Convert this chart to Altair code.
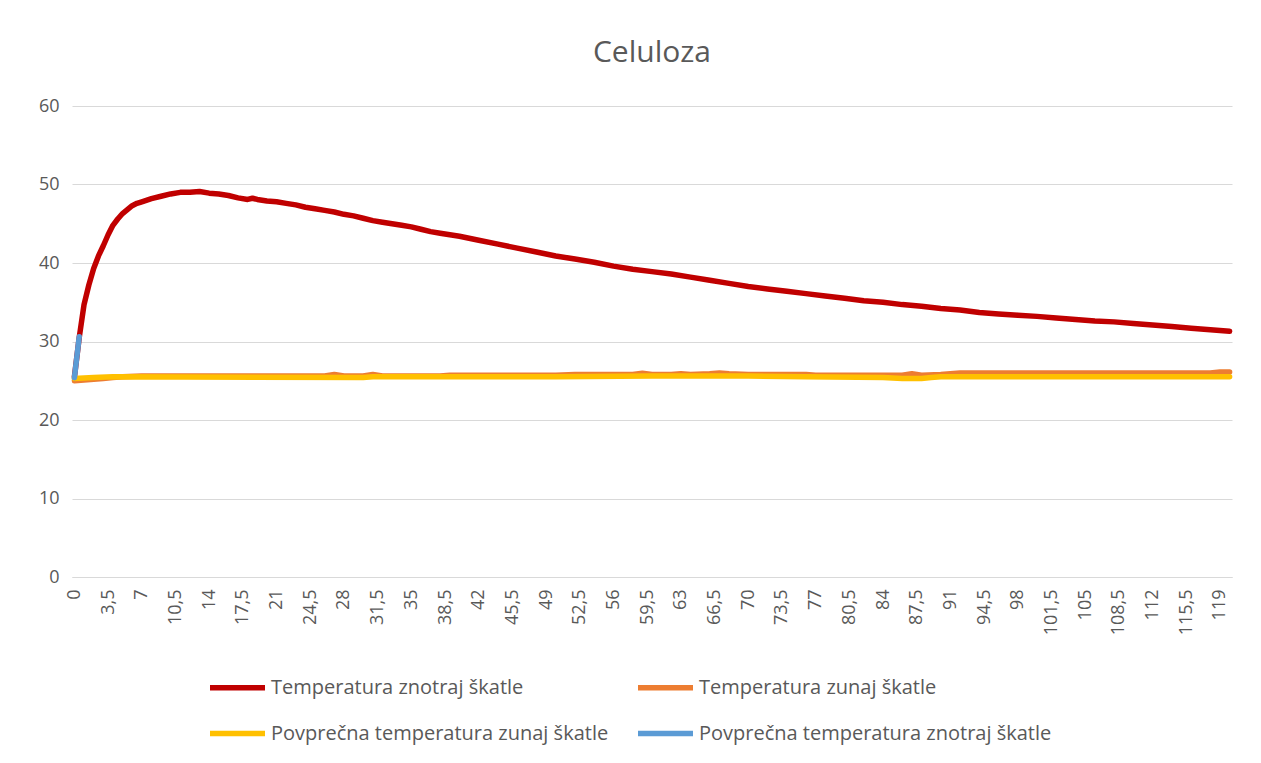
import altair as alt
import pandas as pd

FONT = "Open Sans, sans-serif"
GREY = "#595959"

series_names = [
    "Temperatura znotraj škatle",
    "Temperatura zunaj škatle",
    "Povprečna temperatura zunaj škatle",
    "Povprečna temperatura znotraj škatle",
]
series_colors = ["#C00000", "#ED7D31", "#FFC000", "#5B9BD5"]
series_widths = [5.5, 5.5, 3, 3]

# Temperatura znotraj škatle (red)
red_t = [0, 0.5, 1, 1.5, 2, 2.5, 3, 3.5, 4, 4.5, 5, 5.5, 6, 6.5, 7, 8, 9, 10, 11, 12,
         13, 14, 15, 16, 17, 18, 18.5, 19, 20, 21, 22, 23, 24, 25, 26, 27, 28, 29, 30,
         31, 32, 33, 34, 35, 36, 37, 38, 39, 40, 42, 44, 46, 48, 50, 52, 54, 56, 58,
         60, 62, 64, 66, 68, 70, 72, 74, 76, 78, 80, 82, 84, 86, 88, 90, 92, 94, 96,
         98, 100, 102, 104, 106, 108, 110, 112, 114, 116, 118, 120]
red_v = [25.5, 30.5, 34.7, 37.2, 39.3, 40.9, 42.2, 43.6, 44.8, 45.6, 46.3, 46.8, 47.3, 47.6,
         47.8, 48.2, 48.5, 48.8, 49.0, 49.0, 49.1, 48.9, 48.8, 48.6, 48.3, 48.1, 48.25, 48.1,
         47.9, 47.8, 47.6, 47.4, 47.1, 46.9, 46.7, 46.5, 46.2, 46.0, 45.7, 45.4, 45.2, 45.0,
         44.8, 44.6, 44.3, 44.0, 43.8, 43.6, 43.4, 42.9, 42.4, 41.9, 41.4, 40.9, 40.5, 40.1,
         39.6, 39.2, 38.9, 38.6, 38.2, 37.8, 37.4, 37.0, 36.7, 36.4, 36.1, 35.8, 35.5, 35.2,
         35.0, 34.7, 34.5, 34.2, 34.0, 33.7, 33.5, 33.35, 33.2, 33.0, 32.8, 32.6, 32.5, 32.3,
         32.1, 31.9, 31.7, 31.5, 31.3]

# Temperatura zunaj škatle (orange)
orange_t = [0, 1, 2, 3, 4, 5, 7, 26, 27, 28, 30, 31, 32, 38, 39, 50, 52, 58, 59, 60, 62,
            63, 64, 66, 67, 68, 70, 76, 77, 86, 87, 88, 90, 92, 118, 119, 120]
orange_v = [25.0, 25.1, 25.2, 25.3, 25.4, 25.5, 25.6, 25.6, 25.8, 25.6, 25.6, 25.8, 25.6,
            25.6, 25.7, 25.7, 25.8, 25.8, 25.95, 25.8, 25.8, 25.9, 25.8, 25.9, 26.0, 25.9,
            25.8, 25.8, 25.7, 25.7, 25.9, 25.7, 25.8, 26.0, 26.0, 26.1, 26.1]

# Povprečna temperatura zunaj škatle (yellow)
yellow_t = [0, 2, 4, 30, 31, 50, 60, 70, 76, 84, 86, 88, 89, 90, 120]
yellow_v = [25.3, 25.4, 25.5, 25.4, 25.5, 25.5, 25.6, 25.6, 25.5, 25.4, 25.3, 25.3, 25.4,
            25.5, 25.5]

# Povprečna temperatura znotraj škatle (blue)
blue_t = [0, 0.5]
blue_v = [25.4, 30.6]

tick_values = [i * 3.5 for i in range(35)]
y_ticks = [0, 10, 20, 30, 40, 50, 60]

frames = []
for name, ts, vs in zip(series_names, [red_t, orange_t, yellow_t, blue_t],
                        [red_v, orange_v, yellow_v, blue_v]):
    frames.append(pd.DataFrame({"series": name, "t": ts, "v": vs}))
df = pd.concat(frames, ignore_index=True)

color_scale = alt.Scale(domain=series_names, range=series_colors)
width_scale = alt.Scale(domain=series_names, range=series_widths)

legend = alt.Legend(
    title=None, orient="none", legendX=135, legendY=551, direction="horizontal",
    columns=2, columnPadding=18, rowPadding=4, symbolType="stroke",
    symbolSize=3025, labelFontSize=20, labelColor=GREY, labelFont=FONT,
    labelOffset=3, labelLimit=500,
)

base = alt.Chart(df).encode(
    x=alt.X("t:Q", scale=alt.Scale(domain=[-0.25, 120.25], nice=False, zero=False),
            axis=alt.Axis(values=tick_values, title=None, grid=False, ticks=False,
                          domainColor="#D9D9D9", domainWidth=1, labelAngle=270,
                          labelPadding=12, labelFontSize=18, labelColor=GREY,
                          labelFont=FONT, labelOverlap=False,
                          labelExpr="replace(format(datum.value, '.1~f'), '.', ',')")),
    y=alt.Y("v:Q", scale=alt.Scale(domain=[0, 60], nice=False),
            axis=alt.Axis(values=y_ticks, title=None, ticks=False, domain=False,
                          gridColor="#D9D9D9", gridWidth=1, labelFontSize=18,
                          labelColor=GREY, labelFont=FONT, labelPadding=13,
                          minExtent=60, maxExtent=60)),
    color=alt.Color("series:N", scale=color_scale, legend=legend),
    strokeWidth=alt.StrokeWidth("series:N", scale=width_scale, legend=legend),
)

layers = [
    base.transform_filter(alt.datum.series == name).mark_line(strokeCap="round", strokeJoin="round")
    for name in series_names
]

chart = alt.layer(*layers).properties(
    width=1160, height=471,
    title=alt.TitleParams("Celuloza", fontSize=30, font=FONT, color=GREY,
                          fontWeight="normal", anchor="middle", offset=29),
    padding={"left": 4, "top": 30, "right": 10, "bottom": 10},
).configure_view(stroke=None)

chart.save("out.html", embed_options={"renderer": "svg", "actions": False})
